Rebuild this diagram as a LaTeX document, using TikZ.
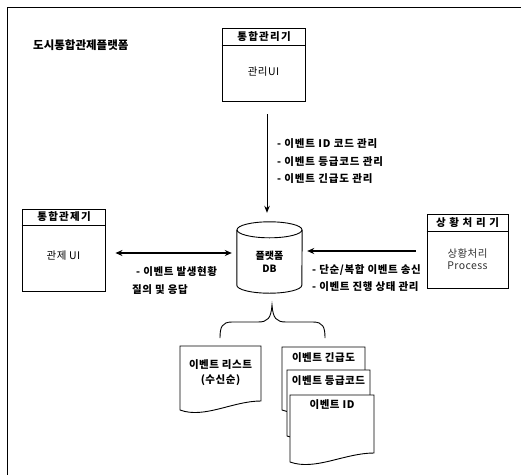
\documentclass[tikz,border=0pt]{standalone}
\usepackage{fontspec}
\setmainfont{Noto Sans CJK KR}
\usetikzlibrary{arrows.meta}
\tikzset{
  unitbox/.style={draw, line width=0.9pt, inner sep=0pt, fill=white},
  hdr/.style={font=\fontsize{10.5}{12}\selectfont\bfseries\addfontfeature{LetterSpace=12}},
  bodytxt/.style={font=\fontsize{10.5}{12}\selectfont\addfontfeature{LetterSpace=4}, align=center},
  lbl/.style={font=\fontsize{10.5}{17.5}\selectfont\bfseries\addfontfeature{LetterSpace=8}, align=left, anchor=west, inner sep=0pt},
  doctxt/.style={font=\fontsize{10.5}{15}\selectfont\bfseries\addfontfeature{LetterSpace=5}, align=center, inner sep=0pt},
  docline/.style={draw, line width=0.9pt, fill=white},
  arr/.style={-{Stealth[length=7pt,width=6pt]}, line width=1.5pt},
  darr/.style={{Stealth[length=7pt,width=6pt]}-{Stealth[length=7pt,width=6pt]}, line width=1.5pt},
  varr/.style={-{Stealth[length=7pt,width=5.5pt]}, line width=1pt},
}
\newcommand\mydocshape[4]{%
  \path[docline] (#1,#2) -- (#3,#2) -- (#3,{#4-9})
    .. controls ({#3-0.35*(#3-#1)},{#4-9}) and ({#1+0.3*(#3-#1)},{#4+9}) .. (#1,#4) -- cycle;}
\begin{document}
\begin{tikzpicture}[x=1pt,y=-1pt]
\useasboundingbox (0,0) rectangle (521,474);
% frame
\draw[line width=1pt] (7,480) -- (7,7) -- (530,7);
\node[font=\fontsize{11.5}{14}\selectfont\bfseries, anchor=west, inner sep=0pt] (title) at (33,45) {도시통합관제플랫폼};

% top box
\node[unitbox, minimum width=83pt, minimum height=73pt] (mgr) at (263.5,64.5) {};
\draw[line width=0.9pt] (mgr.west |- 0,45) -- (mgr.east |- 0,45);
\node[hdr] (mgrh) at (264,36.5) {통합관리기};
\node[bodytxt] (mgrb) at (263.5,72) {관리UI};

% left box
\node[unitbox, minimum width=83pt, minimum height=82pt] (ctl) at (63.5,250) {};
\draw[line width=0.9pt] (ctl.west |- 0,225) -- (ctl.east |- 0,225);
\node[hdr] (ctlh) at (64,217) {통합관제기};
\node[bodytxt] (ctlb) at (63.5,256) {관제 UI};

% right box
\node[unitbox, minimum width=81pt, minimum height=74pt] (proc) at (467.5,251) {};
\draw[line width=0.9pt] (proc.west |- 0,231) -- (proc.east |- 0,231);
\node[hdr] (proch) at (467.5,222.5) {상 황 처 리 기};
\node[bodytxt, text=black!80] (procb) at (467.5,259) {상황처리\\Process};

% DB cylinder
\node[minimum width=65pt, minimum height=71pt, inner sep=0pt] (db) at (269.5,257.5) {};
\draw[line width=0.9pt, fill=white] ([yshift=-8pt]db.north west) -- ([yshift=8pt]db.south west)
   arc[start angle=180, end angle=360, x radius=32.5pt, y radius=8pt] -- ([yshift=-8pt]db.north east);
\draw[line width=0.9pt] ([yshift=-8pt]db.north) ellipse [x radius=32.5pt, y radius=8pt];
\node[doctxt, font=\fontsize{10}{13}\selectfont\bfseries] (dbt) at (269.5,261.5) {플랫폼\\DB};

% arrows
\draw[varr] ([xshift=3.5pt,yshift=-13pt]mgr.south) -- ([xshift=-2.5pt,yshift=9pt]db.north);
\draw[darr] ([xshift=10pt,yshift=-3pt]ctl.east) -- ([xshift=-5pt,yshift=4.5pt]db.west);
\draw[arr] ([xshift=-11pt]proc.west) -- ([xshift=5pt,yshift=6.5pt]db.east);

% labels
\node[lbl] (lt) at (277,161.5) {- 이벤트 ID 코드 관리\\- 이벤트 등급코드 관리\\- 이벤트 긴급도 관리};
\node[lbl, font=\fontsize{10.5}{18}\selectfont\bfseries\addfontfeature{LetterSpace=6}] (ll) at (132,281) {\hspace{4pt}- 이벤트 발생현황\\질의 및 응답};
\node[lbl, font=\fontsize{10.5}{17}\selectfont\bfseries\addfontfeature{LetterSpace=6}] (lr) at (312,278.5) {- 단순/복합 이벤트 송신\\- 이벤트 진행 상태 관리};

% brace
\coordinate (tip) at (272,305);
\draw[line width=0.9pt] (220,338) .. controls (220,327) and (222,322) .. (232,322) -- (258,322)
   .. controls (268,322) and (271,318) .. (tip)
   .. controls (273,318) and (276,322) .. (286,322) -- (313,322)
   .. controls (323,322) and (325,327) .. (325,338);

% documents
\mydocshape{180}{346}{261}{410}
\node[doctxt] (dl) at (220.5,372.5) {이벤트 리스트\\(수신순)};
\mydocshape{282}{347}{365}{410}
\node[doctxt] (d1) at (323.5,358) {이벤트 긴급도};
\mydocshape{287}{370}{370}{436}
\node[doctxt] (d2) at (328.5,381) {이벤트 등급코드};
\mydocshape{290}{395}{374}{462}
\node[doctxt] (d3) at (332,405) {이벤트 ID};
\end{tikzpicture}
\end{document}
